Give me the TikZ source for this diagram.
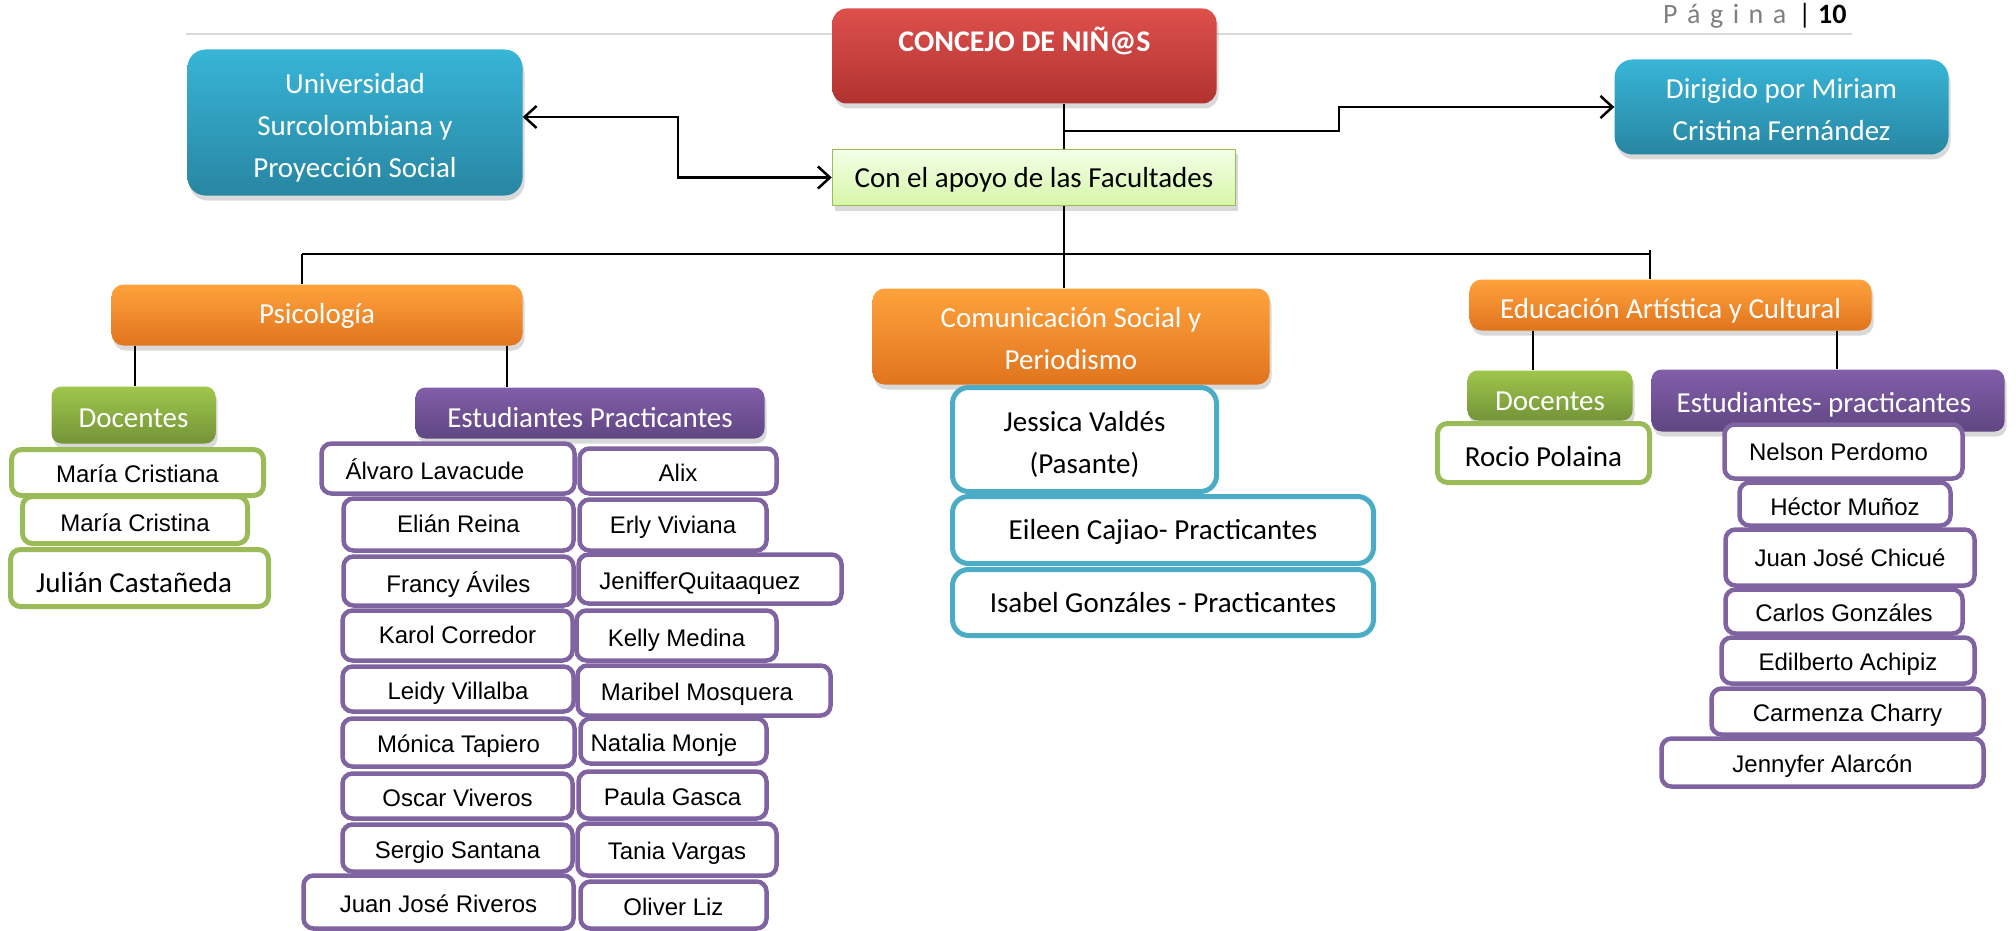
\documentclass[tikz,border=0pt]{standalone}
\usepackage{fontspec}
\setmainfont{Carlito}
\newfontfamily\arialfam{Liberation Sans}
\usetikzlibrary{arrows.meta,shadows}
\definecolor{redT}{RGB}{222,80,76}
\definecolor{redB}{RGB}{176,50,48}
\definecolor{bluT}{RGB}{56,181,215}
\definecolor{bluB}{RGB}{40,134,162}
\definecolor{orT}{RGB}{255,162,60}
\definecolor{orB}{RGB}{224,116,30}
\definecolor{grT}{RGB}{160,198,76}
\definecolor{grB}{RGB}{116,148,56}
\definecolor{puT}{RGB}{130,94,170}
\definecolor{puB}{RGB}{96,70,130}
\definecolor{lgT}{RGB}{244,255,232}
\definecolor{lgB}{RGB}{214,246,168}
\definecolor{lgLine}{RGB}{155,187,89}
\definecolor{puLine}{RGB}{128,100,162}
\definecolor{grLine}{RGB}{155,187,89}
\definecolor{buLine}{RGB}{75,172,198}
\definecolor{hdrGray}{RGB}{217,217,217}
\definecolor{pagGray}{RGB}{127,127,127}
\newcommand{\calf}{\fontsize{29}{42}\selectfont}
\newcommand{\arialf}{\arialfam\fontsize{24}{29}\selectfont}
\newcommand{\ls}{\hspace{9.5pt}}
\newcommand{\toff}{10}
\newcommand{\tln}[1]{\raisebox{-\toff pt}[0pt][0pt]{#1}}
\newcommand{\mybox}[8][]{\node[#2,minimum width={#6-#4-3},minimum height={#7-#5-3},#1] (#3) at ({(#4+#6)/2},{(#5+#7)/2}) {#8};}
\tikzset{
  toff/.code={\renewcommand{\toff}{#1}},
  shad/.style={drop shadow={opacity=0.3,shadow xshift=2pt,shadow yshift=-5pt}},
  hdr/.style={shad,inner sep=2pt,align=center,text=white,font=\calf,toff=12},
  hred/.style={hdr,rounded corners=14pt,top color=redT,bottom color=redB},
  hblue/.style={hdr,rounded corners=18pt,top color=bluT,bottom color=bluB},
  horange/.style={hdr,rounded corners=12pt,top color=orT,bottom color=orB},
  hgreen/.style={hdr,rounded corners=10pt,top color=grT,bottom color=grB},
  hpurple/.style={hdr,rounded corners=10pt,top color=puT,bottom color=puB},
  hapoyo/.style={shad,inner sep=2pt,draw=lgLine,line width=1.5pt,top color=lgT,bottom color=lgB,font=\calf,text=black,toff=9.5},
  nm/.style={draw,fill=white,line width=4.5pt,rounded corners=10pt,inner sep=2pt,align=center,text=black,font=\arialf,toff=10},
  pname/.style={nm,draw=puLine},
  gname/.style={nm,draw=grLine,line width=5pt},
  bname/.style={nm,draw=buLine,line width=5pt,rounded corners=16pt,font=\calf,toff=12},
  tree/.style={line width=2pt,draw=black},
  arr/.style={line width=2.5pt,-{Straight Barb[length=12pt,width=22pt]}},
  arrb/.style={line width=2.5pt,{Straight Barb[length=12pt,width=22pt]}-{Straight Barb[length=12pt,width=22pt]}}
}
\begin{document}
\begin{tikzpicture}[x=1pt,y=-1pt]
\useasboundingbox (0,0) rectangle (2016,931);
% page header
\draw[hdrGray,line width=2pt] (186,34) -- (1852,34);
\node[anchor=base west,inner sep=0,font=\fontsize{28}{30}\selectfont,text=pagGray] (pag) at (1663,24) {P\ls á\ls g\ls i\ls n\ls a\hspace{12pt}{\color{black}|}\hspace{7pt}{\color{black}\bfseries 10}};
% top level
\mybox[toff=-4,font=\bfseries\fontsize{30}{36}\selectfont]{hred}{conc}{831}{7}{1218}{105}{\tln{CONCEJO DE NIÑ@S}}
\mybox[toff=12.5]{hblue}{uni}{186}{48}{524}{197}{\tln{Universidad}\\\tln{Surcolombiana y}\\\tln{Proyección Social}}
\mybox[toff=12.5]{hblue}{dir}{1613}{58}{1950}{156}{\tln{Dirigido por Miriam}\\\tln{Cristina Fernández}}
\mybox{hapoyo}{apoyo}{831}{148}{1237}{207}{\tln{Con el apoyo de las Facultades}}
% faculties
\mybox[toff=8]{horange}{psic}{110}{283}{524}{347}{\tln{Psicología}}
\mybox{horange}{com}{871}{287}{1271}{386}{\tln{Comunicación Social y}\\\tln{Periodismo}}
\mybox[toff=13]{horange}{edu}{1468}{278}{1873}{332}{\tln{Educación Artística y Cultural}}
\mybox{hgreen}{docA}{50}{385}{217}{445}{\tln{Docentes}}
\mybox[toff=14]{hpurple}{estA}{414}{386}{766}{440}{\tln{Estudiantes Practicantes}}
\mybox[toff=15]{hgreen}{docB}{1466}{369}{1634}{422}{\tln{Docentes}}
\mybox[toff=11.5]{hpurple}{estB}{1650}{368}{2006}{433}{\tln{Estudiantes- practicantes}\hspace*{8pt}}
% Psicologia docentes
\mybox{gname}{mcA}{10}{448}{265}{497}{\tln{María Cristiana}}
\mybox[toff=11]{gname}{mcB}{21}{495}{249}{545}{\tln{María Cristina}}
\mybox[font=\calf,toff=14]{gname}{jcas}{9}{548}{270}{608}{\tln{Julián Castañeda}\hspace*{11pt}}
% Psicologia estudiantes
\mybox[toff=11]{pname}{s1}{320}{442}{576}{495}{\tln{Álvaro Lavacude}\hspace*{26pt}}
\mybox{pname}{t1}{578}{447}{778}{495}{\tln{Alix}}
\mybox[toff=8]{pname}{s2}{342}{497}{575}{552}{\tln{Elián Reina}}
\mybox[toff=8]{pname}{t2}{578}{498}{768}{552}{\tln{Erly Viviana}}
\mybox[toff=11]{pname}{s3}{342}{555}{575}{607}{\tln{Francy Áviles}}
\mybox{pname}{t3}{577}{553}{843}{605}{\tln{JenifferQuitaaquez}\hspace*{20pt}}
\mybox[toff=8]{pname}{s4}{341}{609}{574}{662}{\tln{Karol Corredor}}
\mybox[toff=10.5]{pname}{t4}{575}{609}{778}{662}{\tln{Kelly Medina}}
\mybox{pname}{s5}{341}{665}{575}{713}{\tln{Leidy Villalba}}
\mybox{pname}{t5}{576}{664}{832}{717}{\tln{Maribel Mosquera}\hspace*{14pt}}
\mybox{pname}{s6}{341}{717}{576}{768}{\tln{Mónica Tapiero}}
\mybox{pname}{t6}{579}{717}{768}{765}{\tln{Natalia Monje}\hspace*{19pt}}
\mybox{pname}{s7}{341}{772}{574}{820}{\tln{Oscar Viveros}}
\mybox{pname}{t7}{577}{770}{768}{820}{\tln{Paula Gasca}}
\mybox{pname}{s8}{341}{823}{574}{873}{\tln{Sergio Santana}}
\mybox{pname}{t8}{576}{822}{778}{877}{\tln{Tania Vargas}}
\mybox{pname}{s9}{302}{874}{575}{930}{\tln{Juan José Riveros}}
\mybox{pname}{t9}{579}{880}{768}{930}{\tln{Oliver Liz}}
% Comunicacion
\mybox[toff=13]{bname}{jv}{951}{386}{1218}{493}{\tln{Jessica Valdés}\\\tln{(Pasante)}}
\mybox[toff=9]{bname}{ec}{951}{495}{1375}{565}{\tln{Eileen Cajiao- Practicantes}}
\mybox[toff=9.5]{bname}{ig}{951}{568}{1375}{637}{\tln{Isabel Gonzáles - Practicantes}}
% Educacion
\mybox[font=\calf,toff=13]{gname}{rp}{1436}{422}{1651}{484}{\tln{Rocio Polaina}}
\mybox[toff=9]{pname}{r1}{1723}{423}{1964}{480}{\tln{Nelson Perdomo}\hspace*{10pt}}
\mybox[toff=11]{pname}{r2}{1738}{481}{1952}{527}{\tln{Héctor Muñoz}}
\mybox[toff=9]{pname}{r3}{1724}{528}{1976}{587}{\tln{Juan José Chicué}}
\mybox{pname}{r4}{1724}{588}{1964}{635}{\tln{Carlos Gonzáles}}
\mybox{pname}{r5}{1720}{636}{1976}{685}{\tln{Edilberto Achipiz}}
\mybox{pname}{r6}{1710}{687}{1985}{736}{\tln{Carmenza Charry}}
\mybox{pname}{r7}{1660}{737}{1985}{788}{\tln{Jennyfer Alarcón}}
% connectors
\coordinate (vx) at (1064,0);
\coordinate (k1) at (1064,131);
\coordinate (k2) at (1339,131);
\coordinate (u1) at (678,117);
\coordinate (bl) at (302,254);
\coordinate (br) at (1650,254);
\coordinate (brt) at (1650,250);
\coordinate (pl) at (135,0);
\coordinate (pr) at (507,0);
\coordinate (el) at (1533,0);
\coordinate (er) at (1837,0);
\draw[tree] (conc.south -| vx) -- (apoyo.north -| vx);
\draw[tree] (apoyo.south -| vx) -- (com.north -| vx);
\draw[arr] (k1) -- (k2) |- (dir.west);
\draw[arrb] (uni.east |- u1) -- (u1) |- (apoyo.west);
\draw[tree] (bl) -- (br);
\draw[tree] (bl) -- (psic.north -| bl);
\draw[tree] (brt) -- (edu.north -| brt);
\draw[tree] (psic.south -| pl) -- (docA.north -| pl);
\draw[tree] (psic.south -| pr) -- (estA.north -| pr);
\draw[tree] (edu.south -| el) -- (docB.north -| el);
\draw[tree] (edu.south -| er) -- (estB.north -| er);
\end{tikzpicture}
\end{document}
